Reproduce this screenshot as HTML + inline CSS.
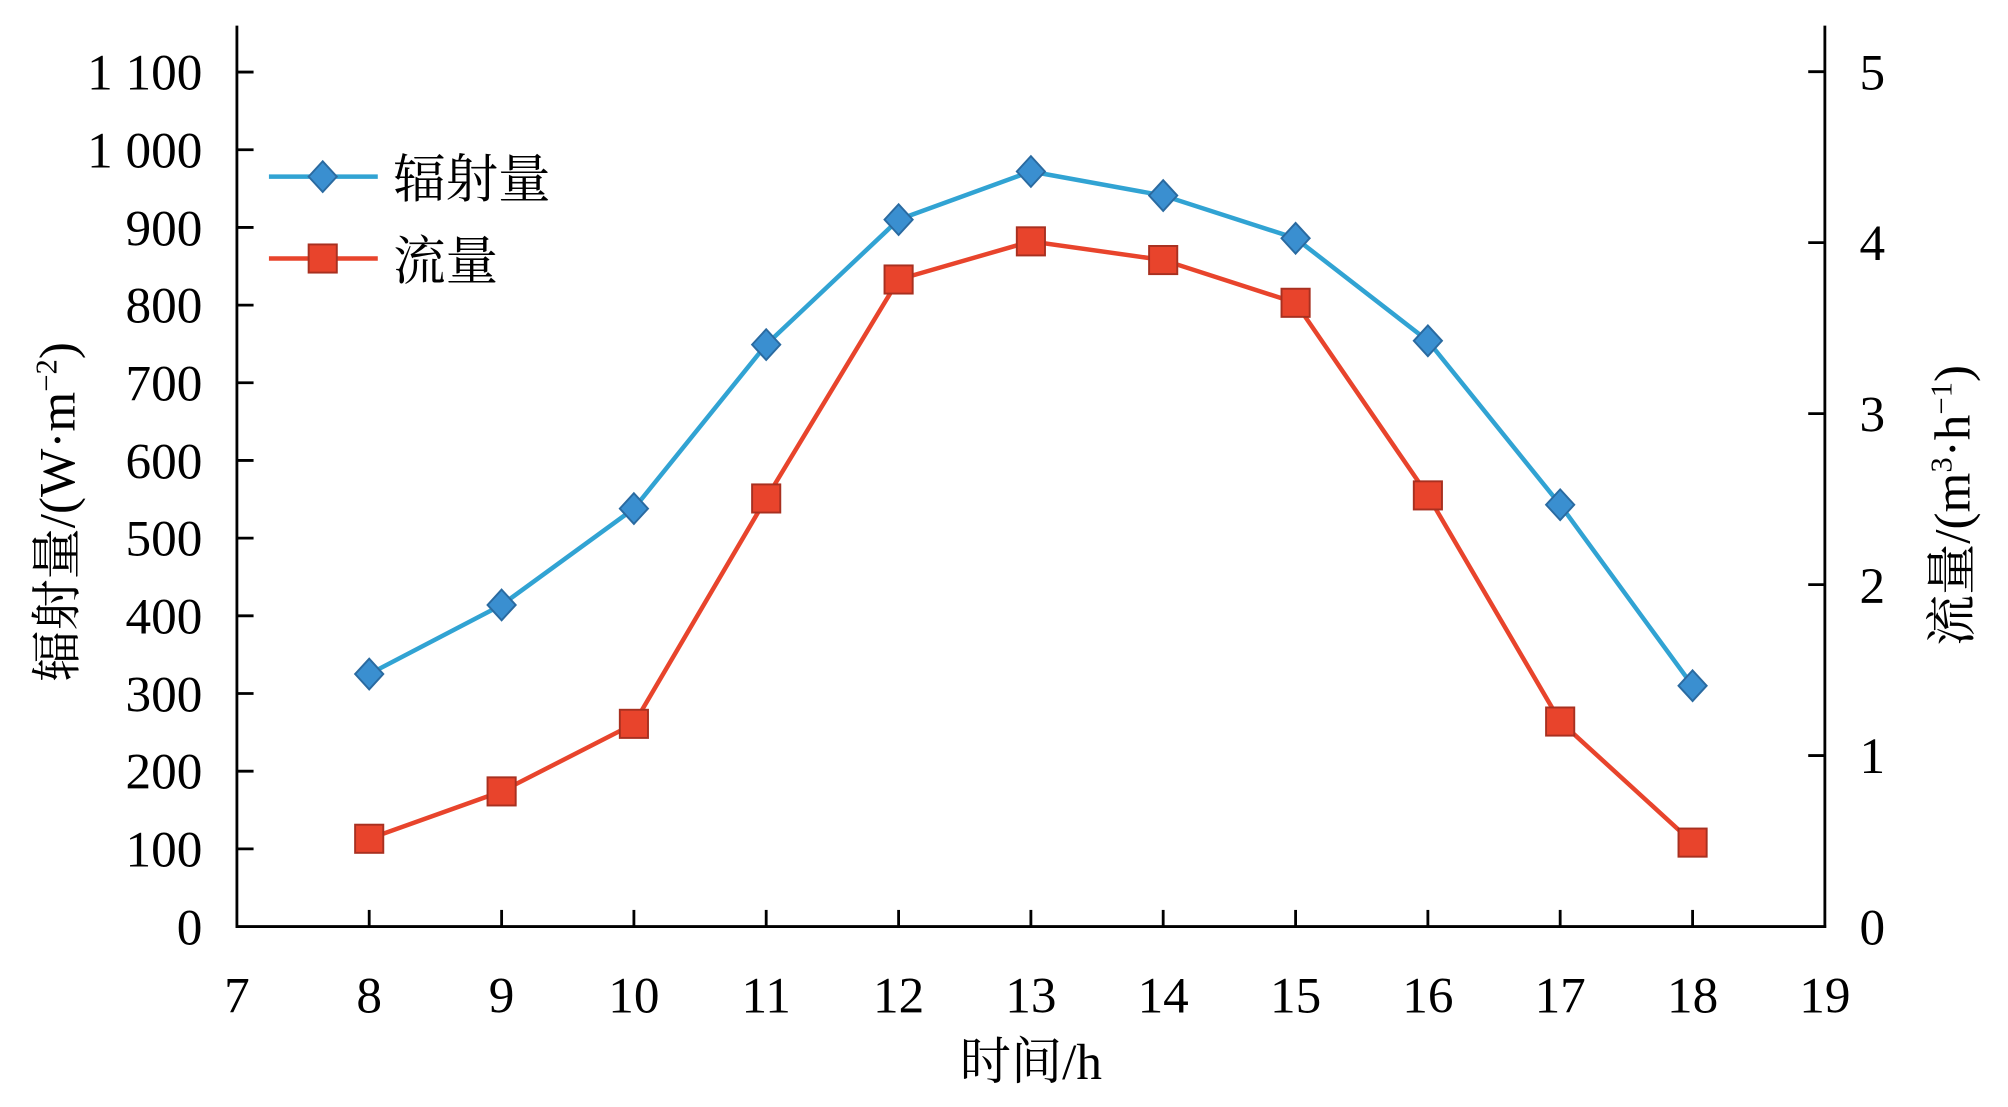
<!DOCTYPE html>
<html><head><meta charset="utf-8"><style>html,body{margin:0;padding:0;background:#fff}svg{display:block}</style></head><body>
<svg width="2008" height="1107" viewBox="0 0 1568 865" preserveAspectRatio="none" xmlns="http://www.w3.org/2000/svg">
<g stroke="#000" stroke-width="2.2" fill="none">
<line x1="185" y1="20" x2="185" y2="725"/>
<line x1="1425" y1="20" x2="1425" y2="725"/>
<line x1="184" y1="724" x2="1426" y2="724"/>
</g>
<g stroke="#000" stroke-width="2.2">
<line x1="185" x2="198" y1="663.3" y2="663.3"/><line x1="185" x2="198" y1="602.6" y2="602.6"/><line x1="185" x2="198" y1="541.9" y2="541.9"/><line x1="185" x2="198" y1="481.2" y2="481.2"/><line x1="185" x2="198" y1="420.5" y2="420.5"/><line x1="185" x2="198" y1="359.8" y2="359.8"/><line x1="185" x2="198" y1="299.1" y2="299.1"/><line x1="185" x2="198" y1="238.4" y2="238.4"/><line x1="185" x2="198" y1="177.7" y2="177.7"/><line x1="185" x2="198" y1="117" y2="117"/><line x1="185" x2="198" y1="56.3" y2="56.3"/>
<line x1="1412" x2="1425" y1="590.4" y2="590.4"/><line x1="1412" x2="1425" y1="456.8" y2="456.8"/><line x1="1412" x2="1425" y1="323.2" y2="323.2"/><line x1="1412" x2="1425" y1="189.6" y2="189.6"/><line x1="1412" x2="1425" y1="56" y2="56"/>
<line x1="288.3" x2="288.3" y1="711" y2="724"/><line x1="391.7" x2="391.7" y1="711" y2="724"/><line x1="495" x2="495" y1="711" y2="724"/><line x1="598.3" x2="598.3" y1="711" y2="724"/><line x1="701.7" x2="701.7" y1="711" y2="724"/><line x1="805" x2="805" y1="711" y2="724"/><line x1="908.3" x2="908.3" y1="711" y2="724"/><line x1="1011.7" x2="1011.7" y1="711" y2="724"/><line x1="1115" x2="1115" y1="711" y2="724"/><line x1="1218.3" x2="1218.3" y1="711" y2="724"/><line x1="1321.7" x2="1321.7" y1="711" y2="724"/>
</g>
<g font-family="Liberation Serif, serif" font-size="40" fill="#000">
<g text-anchor="end">
<text x="158" y="738">0</text><text x="158" y="677">100</text><text x="158" y="616">200</text><text x="158" y="556">300</text><text x="158" y="495">400</text><text x="158" y="434">500</text><text x="158" y="374">600</text><text x="158" y="313">700</text><text x="158" y="252">800</text><text x="158" y="192">900</text><text x="158" y="131">1 000</text><text x="158" y="70">1 100</text>
</g>
<text x="1452" y="738">0</text><text x="1452" y="604">1</text><text x="1452" y="471">2</text><text x="1452" y="337">3</text><text x="1452" y="203">4</text><text x="1452" y="70">5</text>
<g text-anchor="middle">
<text x="185" y="791">7</text><text x="288.3" y="791">8</text><text x="391.7" y="791">9</text><text x="495" y="791">10</text><text x="598.3" y="791">11</text><text x="701.7" y="791">12</text><text x="805" y="791">13</text><text x="908.3" y="791">14</text><text x="1011.7" y="791">15</text><text x="1115" y="791">16</text><text x="1218.3" y="791">17</text><text x="1321.7" y="791">18</text><text x="1425" y="791">19</text>
</g>
</g>
<g font-family="Liberation Serif, 'Noto Serif CJK SC', serif" font-size="40" fill="#000">
<text x="805" y="843" text-anchor="middle">时间/h</text>
<text transform="translate(58,400) rotate(-90)" text-anchor="middle">辐射量/(W·m<tspan dy="-14" font-size="24">−2</tspan><tspan dy="14">)</tspan></text>
<text transform="translate(1538,395) rotate(-90)" text-anchor="middle">流量/(m<tspan dy="-14" font-size="24">3</tspan><tspan dy="14">·h</tspan><tspan dy="-14" font-size="24">−1</tspan><tspan dy="14">)</tspan></text>
<text x="307" y="154" font-size="41">辐射量</text>
<text x="307" y="218" font-size="41">流量</text>
</g>
<polyline fill="none" stroke="#31a3d3" stroke-width="3.5" points="288.3,526.7 391.7,472.7 495,397.4 598.3,269.3 701.7,171.6 805,134 908.3,152.8 1011.7,186.2 1115,266.3 1218.3,394.4 1321.7,535.8"/>
<polyline fill="none" stroke="#e8442c" stroke-width="3.5" points="288.3,655.4 391.7,618.4 495,565.6 598.3,389.5 701.7,218.4 805,188.6 908.3,203.2 1011.7,236.6 1115,387.1 1218.3,563.8 1321.7,658.4"/>
<line x1="210" x2="295" y1="138" y2="138" stroke="#31a3d3" stroke-width="3.5"/>
<line x1="210" x2="295" y1="202" y2="202" stroke="#e8442c" stroke-width="3.5"/>
<g fill="#3a8fd0" stroke="#2a6aa0" stroke-width="1.5">
<path d="M0,-12 L11,0 L0,12 L-11,0Z" transform="translate(252,138)"/>
<path d="M0,-12 L11,0 L0,12 L-11,0Z" transform="translate(288.3,526.7)"/><path d="M0,-12 L11,0 L0,12 L-11,0Z" transform="translate(391.7,472.7)"/><path d="M0,-12 L11,0 L0,12 L-11,0Z" transform="translate(495,397.4)"/><path d="M0,-12 L11,0 L0,12 L-11,0Z" transform="translate(598.3,269.3)"/><path d="M0,-12 L11,0 L0,12 L-11,0Z" transform="translate(701.7,171.6)"/><path d="M0,-12 L11,0 L0,12 L-11,0Z" transform="translate(805,134)"/><path d="M0,-12 L11,0 L0,12 L-11,0Z" transform="translate(908.3,152.8)"/><path d="M0,-12 L11,0 L0,12 L-11,0Z" transform="translate(1011.7,186.2)"/><path d="M0,-12 L11,0 L0,12 L-11,0Z" transform="translate(1115,266.3)"/><path d="M0,-12 L11,0 L0,12 L-11,0Z" transform="translate(1218.3,394.4)"/><path d="M0,-12 L11,0 L0,12 L-11,0Z" transform="translate(1321.7,535.8)"/>
</g>
<g fill="#e8442c" stroke="#a83020" stroke-width="1.5">
<rect x="241" y="191" width="22" height="22"/>
<rect x="277.3" y="644.4" width="22" height="22"/><rect x="380.7" y="607.4" width="22" height="22"/><rect x="484" y="554.6" width="22" height="22"/><rect x="587.3" y="378.5" width="22" height="22"/><rect x="690.7" y="207.4" width="22" height="22"/><rect x="794" y="177.6" width="22" height="22"/><rect x="897.3" y="192.2" width="22" height="22"/><rect x="1000.7" y="225.6" width="22" height="22"/><rect x="1104" y="376.1" width="22" height="22"/><rect x="1207.3" y="552.8" width="22" height="22"/><rect x="1310.7" y="647.4" width="22" height="22"/>
</g>
</svg>
</body></html>
